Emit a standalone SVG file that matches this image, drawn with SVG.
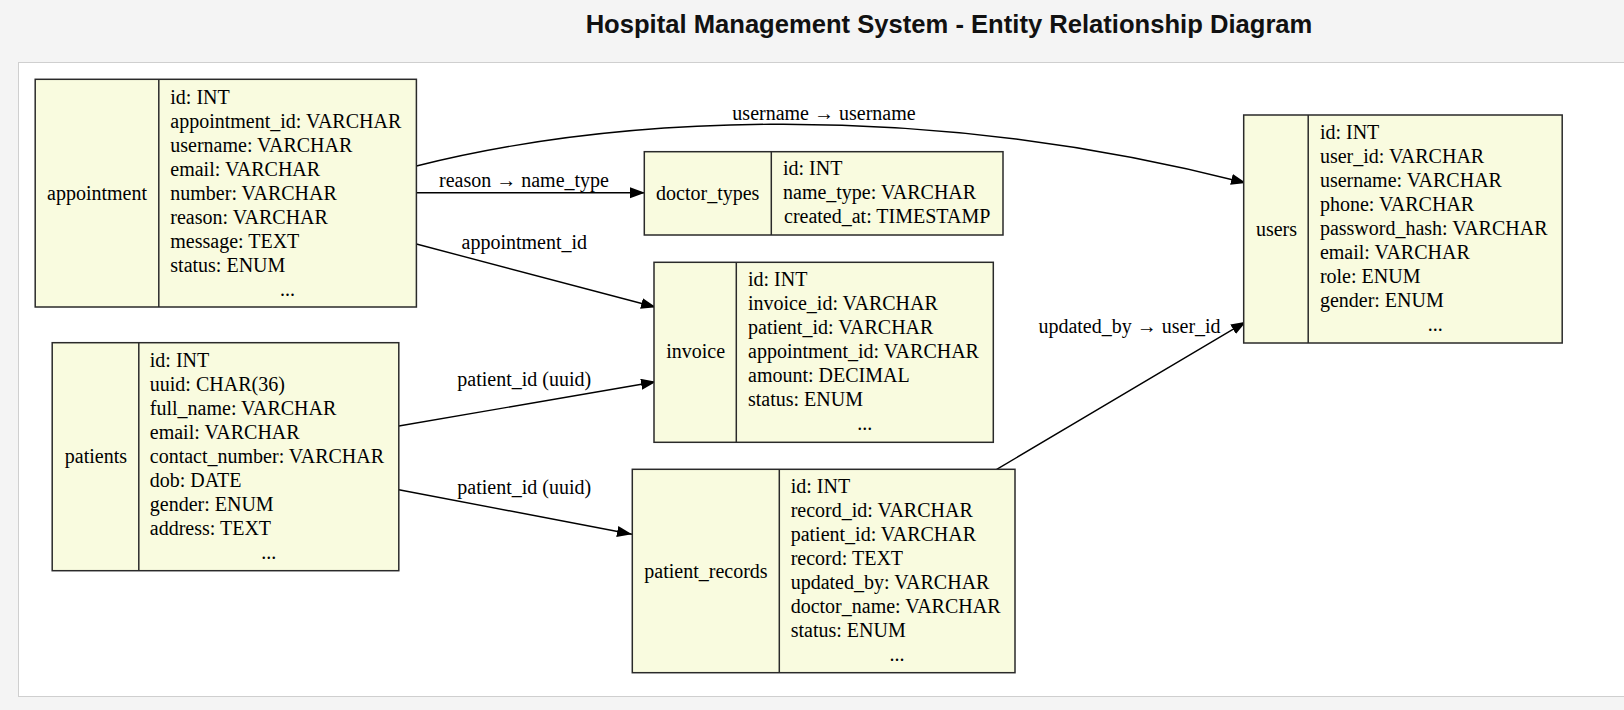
<svg xmlns="http://www.w3.org/2000/svg" width="1624" height="710" viewBox="0 0 1624 710">
<style>
.box{fill:#f9fbdf;stroke:#2a2a2a;stroke-width:1.5}
.div{stroke:#2a2a2a;stroke-width:1.5}
text{font-family:"Liberation Serif","Times New Roman",serif;font-size:20px;fill:#000}
.c{text-anchor:middle}
.title{font-family:"Liberation Sans",Arial,sans-serif;font-weight:bold;font-size:25.6px;fill:#111;text-anchor:middle}
.edge{fill:none;stroke:#000;stroke-width:1.4;marker-end:url(#arr)}
</style>
<defs>
<marker id="arr" markerUnits="userSpaceOnUse" markerWidth="17" markerHeight="13" refX="15" refY="5.5" orient="auto">
<path d="M0,0 L15,5.5 L0,11 z" fill="#000"/>
</marker>
</defs>
<rect x="0" y="0" width="1624" height="710" fill="#f4f4f4"/>
<rect x="18.5" y="62.5" width="1700" height="634" fill="#fff" stroke="#cfcfcf" stroke-width="1"/>
<text class="title" x="949" y="33.3">Hospital Management System - Entity Relationship Diagram</text>

<g id="connectors">
<path class="edge" d="M416.4,166 C600,120 900,95 1246,183"/>
<path class="edge" d="M416.4,192.7 L645,192.7"/>
<path class="edge" d="M416.4,244 L656,307.3"/>
<path class="edge" d="M398.8,426 L656,381.7"/>
<path class="edge" d="M398.8,489.7 L632,534.3"/>
<path class="edge" d="M996.7,469.3 L1246,321.7"/>
<text class="c" x="824" y="119.5">username → username</text>
<text class="c" x="524" y="187">reason → name_type</text>
<text class="c" x="524.3" y="248.5">appointment_id</text>
<text class="c" x="524.3" y="385.5">patient_id (uuid)</text>
<text class="c" x="524.3" y="494">patient_id (uuid)</text>
<text class="c" x="1129.5" y="332.7">updated_by → user_id</text>
</g>

<g id="appointment">
<rect class="box" x="35.2" y="79.3" width="381.2" height="227.7"/>
<line class="div" x1="158.8" y1="79.3" x2="158.8" y2="307"/>
<text class="c" x="97" y="199.5">appointment</text>
<text x="170.3" y="103.5">id: INT</text>
<text x="170.3" y="127.5">appointment_id: VARCHAR</text>
<text x="170.3" y="151.5">username: VARCHAR</text>
<text x="170.3" y="175.5">email: VARCHAR</text>
<text x="170.3" y="199.5">number: VARCHAR</text>
<text x="170.3" y="223.5">reason: VARCHAR</text>
<text x="170.3" y="247.5">message: TEXT</text>
<text x="170.3" y="271.5">status: ENUM</text>
<text class="c" x="287.6" y="295.5">...</text>
</g>

<g id="doctor_types">
<rect class="box" x="644.3" y="151.7" width="358.7" height="83.3"/>
<line class="div" x1="771.3" y1="151.7" x2="771.3" y2="235"/>
<text class="c" x="707.7" y="199.8">doctor_types</text>
<text x="783" y="175">id: INT</text>
<text x="783" y="199">name_type: VARCHAR</text>
<text x="784" y="223">created_at: TIMESTAMP</text>
</g>

<g id="invoice">
<rect class="box" x="654" y="262.3" width="339.3" height="180"/>
<line class="div" x1="736.3" y1="262.3" x2="736.3" y2="442.3"/>
<text class="c" x="695.7" y="358.3">invoice</text>
<text x="748" y="286">id: INT</text>
<text x="748" y="310">invoice_id: VARCHAR</text>
<text x="748" y="334">patient_id: VARCHAR</text>
<text x="748" y="358">appointment_id: VARCHAR</text>
<text x="748" y="382">amount: DECIMAL</text>
<text x="748" y="406">status: ENUM</text>
<text class="c" x="864.8" y="430">...</text>
</g>

<g id="users">
<rect class="box" x="1243.7" y="115" width="318.5" height="228"/>
<line class="div" x1="1308.2" y1="115" x2="1308.2" y2="343"/>
<text class="c" x="1276.5" y="235.5">users</text>
<text x="1319.9" y="139.3">id: INT</text>
<text x="1319.9" y="163.3">user_id: VARCHAR</text>
<text x="1319.9" y="187.3">username: VARCHAR</text>
<text x="1319.9" y="211.3">phone: VARCHAR</text>
<text x="1319.9" y="235.3">password_hash: VARCHAR</text>
<text x="1319.9" y="259.3">email: VARCHAR</text>
<text x="1319.9" y="283.3">role: ENUM</text>
<text x="1319.9" y="307.3">gender: ENUM</text>
<text class="c" x="1435.2" y="331.3">...</text>
</g>

<g id="patients">
<rect class="box" x="52.2" y="342.7" width="346.6" height="228"/>
<line class="div" x1="138.8" y1="342.7" x2="138.8" y2="570.7"/>
<text class="c" x="95.9" y="463.2">patients</text>
<text x="149.8" y="367.3">id: INT</text>
<text x="149.8" y="391.3">uuid: CHAR(36)</text>
<text x="149.8" y="415.3">full_name: VARCHAR</text>
<text x="149.8" y="439.3">email: VARCHAR</text>
<text x="149.8" y="463.3">contact_number: VARCHAR</text>
<text x="149.8" y="487.3">dob: DATE</text>
<text x="149.8" y="511.3">gender: ENUM</text>
<text x="149.8" y="535.3">address: TEXT</text>
<text class="c" x="268.8" y="559.3">...</text>
</g>

<g id="patient_records">
<rect class="box" x="632.3" y="469.3" width="382.7" height="203.4"/>
<line class="div" x1="779.3" y1="469.3" x2="779.3" y2="672.7"/>
<text class="c" x="706" y="577.5">patient_records</text>
<text x="790.7" y="493.3">id: INT</text>
<text x="790.7" y="517.3">record_id: VARCHAR</text>
<text x="790.7" y="541.3">patient_id: VARCHAR</text>
<text x="790.7" y="565.3">record: TEXT</text>
<text x="790.7" y="589.3">updated_by: VARCHAR</text>
<text x="790.7" y="613.3">doctor_name: VARCHAR</text>
<text x="790.7" y="637.3">status: ENUM</text>
<text class="c" x="897" y="661.3">...</text>
</g>
</svg>
